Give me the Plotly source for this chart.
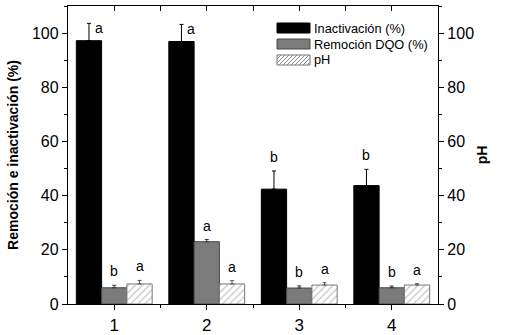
import plotly.graph_objects as go

# ---- data ----
categories = [1, 2, 3, 4]
inact = [97.2, 96.9, 42.4, 43.7]
inact_err = [6.4, 6.3, 6.7, 6.0]
dqo = [6.0, 23.0, 5.9, 6.0]
dqo_err = [0.9, 0.8, 0.8, 0.6]
ph = [7.4, 7.4, 7.0, 7.0]
ph_err = [1.3, 1.2, 0.9, 0.5]
ltr_inact = ["a", "a", "b", "b"]
ltr_dqo = ["b", "a", "b", "b"]
ltr_ph = ["a", "a", "a", "a"]
names = ["Inactivación (%)", "Remoción DQO (%)", "pH"]
y_ticks = [0, 20, 40, 60, 80, 100]

FONT = "Liberation Sans, Arial, sans-serif"
BARGAP = 0.18
bw = (1 - BARGAP) / 3

# plot-area geometry (pixels)
W, H = 507, 335
ML, MR, MT, MB = 68, 69, 6, 31
PW, PH = W - ML - MR, H - MT - MB


def px(xp):
    return (xp - ML) / PW


def py(yp):
    return (H - MB - yp) / PH


BLACK_STYLE = dict(color="black", line=dict(color="black", width=1))
GRAY_STYLE = dict(color="#7b7b7b", line=dict(color="#4a4a4a", width=1))

fig = go.Figure()
fig.add_trace(go.Bar(
    x=categories, y=inact, name=names[0], offsetgroup="1", showlegend=False,
    marker=BLACK_STYLE,
    error_y=dict(type="data", array=inact_err, arrayminus=[0]*4, symmetric=False,
                 color="black", thickness=1, width=2),
))
fig.add_trace(go.Bar(
    x=categories, y=dqo, name=names[1], offsetgroup="2", showlegend=False,
    marker=GRAY_STYLE,
    error_y=dict(type="data", array=dqo_err, arrayminus=[0]*4, symmetric=False,
                 color="#333333", thickness=1, width=2),
))
fig.add_trace(go.Bar(
    x=categories, y=ph, name=names[2], offsetgroup="3", yaxis="y2", showlegend=False,
    marker=dict(color="white", line=dict(color="#777777", width=1),
                pattern=dict(shape="/", fgcolor="#8a8a8a", bgcolor="white", size=5, solidity=0.25)),
    error_y=dict(type="data", array=ph_err, arrayminus=[0]*4, symmetric=False,
                 color="#555555", thickness=1, width=2),
))
# invisible trace for top axis
fig.add_trace(go.Scatter(x=[categories[0]], y=[0], xaxis="x2", mode="markers",
                         marker=dict(opacity=0), showlegend=False, hoverinfo="skip"))

# letter annotations
series = [(inact, inact_err, ltr_inact, -bw), (dqo, dqo_err, ltr_dqo, 0.0), (ph, ph_err, ltr_ph, bw)]
for vals, errs, ltrs, off in series:
    for c, v, e, l in zip(categories, vals, errs, ltrs):
        top = v + e
        if top > 95:
            fig.add_annotation(x=c + off, y=top, text=l, showarrow=False, xanchor="left",
                               yanchor="middle", xshift=4, yshift=-5,
                               font=dict(family=FONT, size=14, color="black"))
        else:
            fig.add_annotation(x=c + off, y=top, text=l, showarrow=False, xanchor="center",
                               yanchor="bottom", yshift=4,
                               font=dict(family=FONT, size=14, color="black"))

# ---- custom legend (wide swatches) ----
sx0, sx1 = 277, 310
rows = [28, 44, 60]
sh = 5
shapes = []
fills = [("black", "black"), ("#7b7b7b", "#4a4a4a"), ("white", "#777777")]
for (fc, lc), yc, nm in zip(fills, rows, names):
    shapes.append(dict(type="rect", xref="paper", yref="paper",
                       x0=px(sx0), x1=px(sx1), y0=py(yc + sh), y1=py(yc - sh),
                       fillcolor=fc, line=dict(color=lc, width=1), layer="above"))
    fig.add_annotation(xref="paper", yref="paper", x=px(sx1 + 2), y=py(yc), text=nm,
                       showarrow=False, xanchor="left", yanchor="middle",
                       font=dict(family=FONT, size=12.8, color="black"))
# hatch lines for pH swatch
yc = rows[2]
yb, yt = yc + sh, yc - sh
hh = yb - yt
step = 4
x = sx0 - hh
while x < sx1:
    xa, ya = x, yb
    xb, yb2 = x + hh, yt
    if xa < sx0:
        ya = yb - (sx0 - xa)
        xa = sx0
    if xb > sx1:
        yb2 = yt + (xb - sx1)
        xb = sx1
    if xb > xa:
        shapes.append(dict(type="line", xref="paper", yref="paper",
                           x0=px(xa), y0=py(ya), x1=px(xb), y1=py(yb2),
                           line=dict(color="#8a8a8a", width=1), layer="above"))
    x += step

axis_common = dict(showline=True, linecolor="black", linewidth=1.3, showgrid=False,
                   zeroline=False, automargin=False)

fig.update_layout(
    width=W, height=H,
    margin=dict(l=ML, r=MR, t=MT, b=MB),
    paper_bgcolor="white", plot_bgcolor="white",
    barmode="group", bargap=BARGAP, bargroupgap=0,
    font=dict(family=FONT, color="black"),
    showlegend=False,
    shapes=shapes,
    xaxis=dict(range=[0.5, 4.5], tickvals=categories, ticktext=[str(c) for c in categories],
               ticks="outside", ticklen=5, tickcolor="black",
               tickfont=dict(family=FONT, size=17, color="black"),
               minor=dict(ticks="outside", ticklen=3, tickvals=[1.5, 2.5, 3.5], tickcolor="black"),
               **axis_common),
    xaxis2=dict(range=[0.5, 4.5], overlaying="x", side="top", anchor="y",
                tickvals=[1, 1.5, 2, 2.5, 3, 3.5, 4], ticks="inside", ticklen=5, tickcolor="black",
                showticklabels=False, **axis_common),
    yaxis=dict(range=[0, 110], tickvals=y_ticks, ticks="outside", ticklen=5, tickcolor="black",
               tickfont=dict(family=FONT, size=16, color="black"),
               minor=dict(ticks="outside", ticklen=3, dtick=10, tick0=0, tickcolor="black"),
               title=dict(text="<b>Remoción e inactivación (%)</b>", standoff=10,
                          font=dict(family=FONT, size=14, color="black")),
               **axis_common),
    yaxis2=dict(range=[0, 110], overlaying="y", side="right", anchor="x",
                tickvals=y_ticks, ticks="outside", ticklen=5, tickcolor="black",
                tickfont=dict(family=FONT, size=16, color="black"),
                minor=dict(ticks="outside", ticklen=3, dtick=10, tick0=0, tickcolor="black"),
                title=dict(text="<b>pH</b>", standoff=4, font=dict(family=FONT, size=14, color="black")),
                **axis_common),
)

fig.write_html("out.html", config={"displayModeBar": False},
               post_script="document.body.style.margin='0';document.body.style.overflow='hidden';")
